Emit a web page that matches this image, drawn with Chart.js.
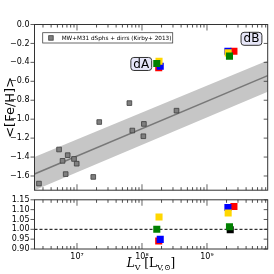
<!DOCTYPE html>
<html>
<head>
<meta charset="utf-8">
<script src="https://cdn.jsdelivr.net/npm/chart.js@4/dist/chart.umd.min.js"></script>
<style>
  body { margin: 0; width: 274px; height: 274px; position: relative; background: #fff; overflow: hidden; }
  canvas { position: absolute; left: 0; }
  #xtitle { position: absolute; left: 0; width: 302px; top: 256px; text-align: center;
            font: 12px "DejaVu Serif", serif; color: #000; white-space: nowrap; }
  #xtitle sub { font-size: 8px; vertical-align: -3px; }
</style>
</head>
<body>
<canvas id="topChart" width="274" height="200" style="top:0"></canvas>
<canvas id="botChart" width="274" height="84" style="top:190px"></canvas>
<div id="xtitle"><i>L</i><sub>V</sub> [L<sub>V,⊙</sub>]</div>
<script>
// axis ranges and tick labels
const xMin = 2.22e6, xMax = 8.6e9;
const xTicks = [1e7, 1e8, 1e9];
const fehTicks = [0, -0.2, -0.4, -0.6, -0.8, -1.0, -1.2, -1.4, -1.6];
const ratioTicks = [0.90, 0.95, 1.00, 1.05, 1.10, 1.15];

// MW+M31 dSphs + dIrrs (Kirby+ 2013)
const kirbyL   = [2.6e6, 5.3e6, 6.0e6, 7.2e6, 9.0e6, 9.9e6, 6.7e6, 1.78e7, 2.2e7, 6.4e7, 7.1e7, 1.07e8, 1.05e8, 3.4e8];
const kirbyFeH = [-1.68, -1.32, -1.44, -1.38, -1.42, -1.47, -1.58, -1.61, -1.03, -0.83, -1.12, -1.05, -1.18, -0.91];

// mass-metallicity relation and its scatter
const fitL   = [2.22e6, 8.6e9];
const fitFeH = [-1.58, -0.54];
const bandHi = [-1.40, -0.38];
const bandLo = [-1.75, -0.71];

// simulated galaxies dA, dB (one colour per run)
const redL = [1.81e8, 2.6e9],    redFeH = [-0.456, -0.283],    redRatio = [0.941, 1.116];
const blueL = [1.91e8, 2.1e9],   blueFeH = [-0.440, -0.283],   blueRatio = [0.949, 1.111];
const yellowL = [1.83e8, 2.12e9], yellowFeH = [-0.389, -0.300], yellowRatio = [1.063, 1.083];
const greenL = [1.69e8, 2.22e9], greenFeH = [-0.412, -0.334],  greenRatio = [1.000, 1.013];
const blackL = [2.28e9],         blackRatio = [0.998];

// label boxes for the two galaxies
const galaxyNames = ['dA', 'dB'];
const galaxyLabelL = [9.75e7, 4.84e9];
const galaxyLabelFeH = [-0.417, -0.151];

const pts = (xs, ys) => xs.map((x, i) => ({ x: x, y: ys[i] }));
const minus = s => s.replace('-', '\u2212');

Chart.defaults.font.family = '"DejaVu Sans", sans-serif';
Chart.defaults.color = '#000';
Chart.defaults.animation = false;

const frameTicks = {
  id: 'frameTicks',
  afterDraw(chart) {
    const { ctx, chartArea: a, scales } = chart;
    const x = scales.x, y = scales.y;
    ctx.save();
    for (let e = 6; e <= 9; e++) {
      for (let k = 1; k <= 9; k++) {
        const v = k * Math.pow(10, e);
        if (v < xMin || v > xMax) continue;
        const px = x.getPixelForValue(v);
        const major = k === 1;
        const len = major ? 6 : 3;
        ctx.strokeStyle = major ? '#999' : '#222';
        ctx.lineWidth = major ? 1.5 : 0.8;
        ctx.beginPath();
        ctx.moveTo(px, a.top); ctx.lineTo(px, a.top + len);
        ctx.moveTo(px, a.bottom); ctx.lineTo(px, a.bottom - len);
        ctx.stroke();
      }
    }
    ctx.strokeStyle = '#333';
    ctx.lineWidth = 0.8;
    y.ticks.forEach(t => {
      const py = y.getPixelForValue(t.value);
      ctx.beginPath();
      ctx.moveTo(a.left - 4, py); ctx.lineTo(a.left, py);
      ctx.moveTo(a.right, py); ctx.lineTo(a.right - 4, py);
      ctx.stroke();
    });
    ctx.strokeStyle = '#333';
    ctx.lineWidth = 1;
    ctx.strokeRect(a.left, a.top, a.right - a.left, a.bottom - a.top);
    ctx.restore();
  }
};

const labelsAndLegend = {
  id: 'labelsAndLegend',
  afterDatasetsDraw(chart) {
    const { ctx, chartArea: a, scales } = chart;
    ctx.save();
    // legend box
    const lx = a.left + 8.2, ly = a.top + 8.2, lw = 130, lh = 10.3;
    ctx.fillStyle = '#fff';
    ctx.fillRect(lx, ly, lw, lh);
    ctx.strokeStyle = '#444';
    ctx.lineWidth = 0.8;
    ctx.strokeRect(lx, ly, lw, lh);
    ctx.fillStyle = '#7f7f7f';
    ctx.fillRect(lx + 6, ly + 3, 4.5, 4.5);
    ctx.strokeStyle = '#3c3c3c';
    ctx.strokeRect(lx + 6, ly + 3, 4.5, 4.5);
    ctx.fillStyle = '#000';
    ctx.font = '5.7px "DejaVu Sans"';
    ctx.textBaseline = 'middle';
    ctx.fillText('MW+M31 dSphs + dirrs (Kirby+ 2013)', lx + 19, ly + lh / 2 + 0.3);
    // galaxy name boxes
    ctx.font = '12px "DejaVu Sans"';
    ctx.textAlign = 'center';
    galaxyNames.forEach((name, i) => {
      const cx = scales.x.getPixelForValue(galaxyLabelL[i]);
      const cy = scales.y.getPixelForValue(galaxyLabelFeH[i]);
      const w = ctx.measureText(name).width + 5, h = 13;
      ctx.beginPath();
      ctx.roundRect(cx - w / 2, cy - h / 2, w, h, 3);
      ctx.fillStyle = '#e6e6f8';
      ctx.fill();
      ctx.strokeStyle = '#333';
      ctx.lineWidth = 1;
      ctx.stroke();
      ctx.fillStyle = '#000';
      ctx.fillText(name, cx, cy + 0.5);
    });
    ctx.restore();
  }
};

const sq = (label, xs, ys, color, order) => ({
  type: 'scatter', label: label, data: pts(xs, ys), order: order,
  pointStyle: 'rect', pointRadius: 5, backgroundColor: color,
  borderColor: color, borderWidth: 0
});

new Chart(document.getElementById('topChart'), {
  type: 'scatter',
  data: {
    datasets: [
      { type: 'line', label: 'hi', data: pts(fitL, bandHi), borderWidth: 0, pointRadius: 0,
        fill: '+1', backgroundColor: '#c6c6c6', order: 20 },
      { type: 'line', label: 'lo', data: pts(fitL, bandLo), borderWidth: 0, pointRadius: 0,
        fill: false, order: 21 },
      { type: 'line', label: 'fit', data: pts(fitL, fitFeH), borderColor: '#787878', borderWidth: 1.6,
        pointRadius: 0, fill: false, order: 15 },
      { type: 'scatter', label: 'Kirby+ 2013', data: pts(kirbyL, kirbyFeH), order: 10,
        pointStyle: 'rect', pointRadius: 3.3, backgroundColor: '#7f7f7f', borderColor: '#3c3c3c', borderWidth: 0.8 },
      sq('red', redL, redFeH, '#ff0000', 5),
      sq('blue', blueL, blueFeH, '#0000ff', 4),
      sq('yellow', yellowL, yellowFeH, '#ffd700', 3),
      sq('green', greenL, greenFeH, '#008000', 2)
    ]
  },
  options: {
    responsive: false,
    devicePixelRatio: 1,
    layout: { padding: { left: 0, top: 24.5, right: 6.3, bottom: 3.5 } },
    plugins: { legend: { display: false }, tooltip: { enabled: false } },
    scales: {
      x: { type: 'logarithmic', min: xMin, max: xMax, display: false },
      y: {
        min: -1.75, max: 0,
        afterFit: s => { s.width = 34.5; },
        afterBuildTicks: s => { s.ticks = fehTicks.map(v => ({ value: v })); },
        grid: { display: false, drawTicks: false },
        border: { display: false },
        ticks: { autoSkip: false, padding: 5, font: { size: 8 }, callback: v => minus(v.toFixed(1)) },
        title: { display: true, text: '<[Fe/H]>', font: { size: 13 }, padding: { top: 3, bottom: 0 } }
      }
    }
  },
  plugins: [frameTicks, labelsAndLegend]
});

new Chart(document.getElementById('botChart'), {
  type: 'scatter',
  data: {
    datasets: [
      { type: 'line', label: 'unity', data: pts(fitL, [1, 1]), borderColor: '#000', borderWidth: 1,
        borderDash: [3, 2], pointRadius: 0, fill: false, order: 20 },
      sq('black', blackL, blackRatio, '#000000', 6),
      sq('red', redL, redRatio, '#ff0000', 5),
      sq('blue', blueL, blueRatio, '#0000ff', 4),
      sq('yellow', yellowL, yellowRatio, '#ffd700', 3),
      sq('green', greenL, greenRatio, '#008000', 2)
    ]
  },
  options: {
    responsive: false,
    devicePixelRatio: 1,
    layout: { padding: { left: 0, top: 6.5, right: 6.3, bottom: 0 } },
    plugins: { legend: { display: false }, tooltip: { enabled: false } },
    scales: {
      x: {
        type: 'logarithmic', min: xMin, max: xMax,
        afterFit: s => { s.height = 25; },
        afterBuildTicks: s => { s.ticks = xTicks.map(v => ({ value: v })); },
        grid: { display: false, drawTicks: false },
        border: { display: false },
        ticks: { autoSkip: false, padding: 3, font: { size: 8 }, maxRotation: 0,
                 callback: v => '10' + String(Math.round(Math.log10(v))).replace(/\d/g, d => '⁰¹²³⁴⁵⁶⁷⁸⁹'[d]) }
      },
      y: {
        min: 0.9, max: 1.15,
        afterFit: s => { s.width = 34.5; },
        afterBuildTicks: s => { s.ticks = ratioTicks.map(v => ({ value: v })); },
        grid: { display: false, drawTicks: false },
        border: { display: false },
        ticks: { autoSkip: false, padding: 5, font: { size: 8 }, callback: v => v.toFixed(2) }
      }
    }
  },
  plugins: [frameTicks]
});
</script>
</body>
</html>
